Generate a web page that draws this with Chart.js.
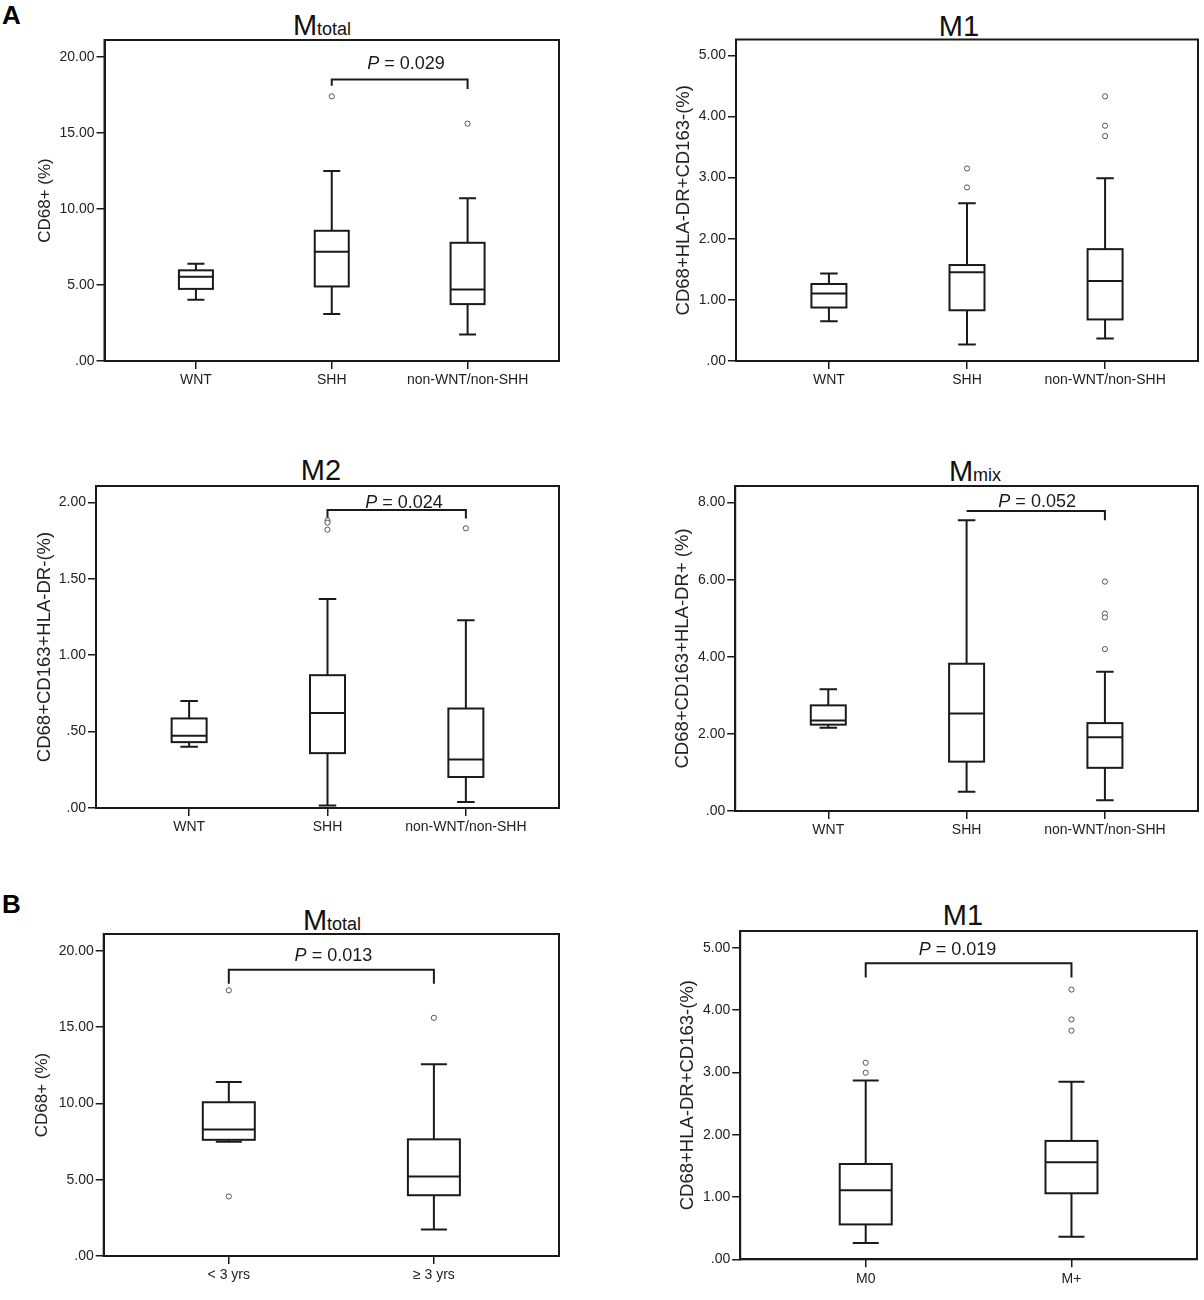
<!DOCTYPE html>
<html>
<head>
<meta charset="utf-8">
<script src="https://cdn.jsdelivr.net/npm/chart.js@4.4.1/dist/chart.umd.min.js"></script>
<style>
html,body{margin:0;padding:0;background:#fff;}
body{width:1204px;height:1300px;position:relative;overflow:hidden;font-family:"Liberation Sans",Arial,sans-serif;}
canvas{position:absolute;}
.ttl{position:absolute;font-size:29px;line-height:1;color:#111;white-space:nowrap;transform:translateX(-50%);}
.ttl span{font-size:18px;line-height:1;}
.lt{position:absolute;font-size:26px;font-weight:bold;line-height:1;color:#000;}
</style>
</head>
<body>
<div class="lt" style="left:2px;top:2px;">A</div>
<div class="lt" style="left:2px;top:891px;">B</div>
<div class="ttl" style="left:322px;top:10.5px;">M<span>total</span></div>
<div class="ttl" style="left:959px;top:11.5px;">M1</div>
<div class="ttl" style="left:321px;top:455.5px;">M2</div>
<div class="ttl" style="left:975px;top:456.5px;">M<span>mix</span></div>
<div class="ttl" style="left:332px;top:905.5px;">M<span>total</span></div>
<div class="ttl" style="left:963px;top:900.5px;">M1</div>
<script>
// ---------- categories ----------
const groupsMol = ['WNT', 'SHH', 'non-WNT/non-SHH'];
const groupsAge = ['< 3 yrs', '\u2265 3 yrs'];
const groupsMeta = ['M0', 'M+'];

// ---------- five-number summaries: [lower whisker, Q1, median, Q3, upper whisker] ----------
const aTotalStats = [[4.02, 4.74, 5.53, 5.96, 6.40], [3.09, 4.90, 7.18, 8.56, 12.49], [1.75, 3.74, 4.70, 7.77, 10.70]];
const aTotalOutliers = [[], [17.4], [15.6]];

const aM1Stats = [[0.65, 0.875, 1.105, 1.26, 1.43], [0.27, 0.83, 1.45, 1.57, 2.58], [0.37, 0.68, 1.31, 1.83, 2.99]];
const aM1Outliers = [[], [3.15, 2.84], [4.33, 3.85, 3.68]];

const aM2Stats = [[0.40, 0.431, 0.473, 0.586, 0.70], [0.017, 0.359, 0.621, 0.869, 1.368], [0.039, 0.203, 0.318, 0.651, 1.229]];
const aM2Outliers = [[], [1.882, 1.867, 1.821], [1.83]];

const aMixStats = [[2.16, 2.24, 2.35, 2.74, 3.16], [0.50, 1.28, 2.53, 3.82, 7.54], [0.28, 1.12, 1.91, 2.28, 3.61]];
const aMixOutliers = [[], [], [5.95, 5.12, 5.02, 4.20]];

const bTotalStats = [[7.48, 7.61, 8.29, 10.07, 11.40], [1.73, 3.98, 5.21, 7.64, 12.56]];
const bTotalOutliers = [[17.4, 3.9], [15.6]];

const bM1Stats = [[0.26, 0.56, 1.11, 1.53, 2.87], [0.36, 1.06, 1.556, 1.90, 2.85]];
const bM1Outliers = [[3.155, 2.995], [4.33, 3.85, 3.67]];

// ---------- p values ----------
const pValues = ['0.029', '0.024', '0.052', '0.013', '0.019'];

// ---------- tick values / labels ----------
const ticksTotal = [0, 5, 10, 15, 20];
const tickLabelsTotal = ['.00', '5.00', '10.00', '15.00', '20.00'];
const ticksM1 = [0, 1, 2, 3, 4, 5];
const tickLabelsM1 = ['.00', '1.00', '2.00', '3.00', '4.00', '5.00'];
const ticksM2 = [0, 0.5, 1, 1.5, 2];
const tickLabelsM2 = ['.00', '.50', '1.00', '1.50', '2.00'];
const ticksMix = [0, 2, 4, 6, 8];
const tickLabelsMix = ['.00', '2.00', '4.00', '6.00', '8.00'];

// ---------- panel layout (pixels / styles) ----------
const panels = [
  {plot:[104.5, 40, 560, 361], yTitleX:44.8, yTitle:'CD68+ (%)', yTitleSize:17, yMax:21.1, pad:0.673,
   cats:groupsMol, stats:aTotalStats, outliers:aTotalOutliers, ticks:ticksTotal, tickLabels:tickLabelsTotal, boxW:34,
   bracket:{from:1, to:2, y:18.5, yl:18.1, yr:17.88, p:pValues[0], px:1.547, py:19.2}},
  {plot:[736, 39.5, 1198.5, 361], yTitleX:683.6, yTitle:'CD68+HLA-DR+CD163-(%)', yTitleSize:18.5, yMax:5.26, pad:0.673,
   cats:groupsMol, stats:aM1Stats, outliers:aM1Outliers, ticks:ticksM1, tickLabels:tickLabelsM1, boxW:35, bracket:null},
  {plot:[96, 486, 560, 808], yTitleX:44.8, yTitle:'CD68+CD163+HLA-DR-(%)', yTitleSize:18.5, yMax:2.107, pad:0.673,
   cats:groupsMol, stats:aM2Stats, outliers:aM2Outliers, ticks:ticksM2, tickLabels:tickLabelsM2, boxW:35,
   bracket:{from:1, to:2, y:1.95, yl:1.895, yr:1.895, p:pValues[1], px:1.553, py:1.963}},
  {plot:[735.2, 486, 1199, 811], yTitleX:682.8, yTitle:'CD68+CD163+HLA-DR+ (%)', yTitleSize:18.5, yMax:8.43, pad:0.673,
   cats:groupsMol, stats:aMixStats, outliers:aMixOutliers, ticks:ticksMix, tickLabels:tickLabelsMix, boxW:35,
   bracket:{from:1, to:2, y:7.78, yl:7.78, yr:7.54, p:pValues[2], px:1.51, py:7.88}},
  {plot:[103.7, 934, 560, 1256], yTitleX:42.1, yTitle:'CD68+ (%)', yTitleSize:17, yMax:21.09, pad:0.61,
   cats:groupsAge, stats:bTotalStats, outliers:bTotalOutliers, ticks:ticksTotal, tickLabels:tickLabelsTotal, boxW:52,
   bracket:{from:0, to:1, y:18.75, yl:17.83, yr:17.83, p:pValues[3], px:0.51, py:19.3}},
  {plot:[740.2, 931, 1198, 1259.3], yTitleX:687.8, yTitle:'CD68+HLA-DR+CD163-(%)', yTitleSize:18.5, yMax:5.27, pad:0.61,
   cats:groupsMeta, stats:bM1Stats, outliers:bM1Outliers, ticks:ticksM1, tickLabels:tickLabelsM1, boxW:52,
   bracket:{from:0, to:1, y:4.754, yl:4.524, yr:4.524, p:pValues[4], px:0.446, py:4.89}}
];

const LINE = '#1a1a1a';
const FONT = '"Liberation Sans", Arial, sans-serif';

const boxPlugin = {
  id: 'boxplot',
  beforeDatasetsDraw(chart) {
    const p = chart.options.plugins.boxplot;
    const xs = chart.scales.x, ys = chart.scales.y;
    const ctx = chart.ctx;
    ctx.save();
    ctx.strokeStyle = LINE;
    ctx.lineWidth = 2;
    p.stats.forEach((s, i) => {
      const cx = xs.getPixelForValue(i);
      const w = p.boxW, cw = w / 2;
      const [lo, q1, med, q3, hi] = s.map(v => ys.getPixelForValue(v));
      // whiskers
      ctx.beginPath();
      ctx.moveTo(cx, q3); ctx.lineTo(cx, hi);
      ctx.moveTo(cx - cw / 2, hi); ctx.lineTo(cx + cw / 2, hi);
      ctx.moveTo(cx, q1); ctx.lineTo(cx, lo);
      ctx.moveTo(cx - cw / 2, lo); ctx.lineTo(cx + cw / 2, lo);
      ctx.stroke();
      // box
      ctx.fillStyle = '#fff';
      ctx.fillRect(cx - w / 2, q3, w, q1 - q3);
      ctx.strokeRect(cx - w / 2, q3, w, q1 - q3);
      ctx.beginPath();
      ctx.moveTo(cx - w / 2, med); ctx.lineTo(cx + w / 2, med);
      ctx.stroke();
    });
    const b = p.bracket;
    if (b) {
      const x1 = xs.getPixelForValue(b.from), x2 = xs.getPixelForValue(b.to);
      ctx.beginPath();
      ctx.moveTo(x1, ys.getPixelForValue(b.yl));
      ctx.lineTo(x1, ys.getPixelForValue(b.y));
      ctx.lineTo(x2, ys.getPixelForValue(b.y));
      ctx.lineTo(x2, ys.getPixelForValue(b.yr));
      ctx.stroke();
      const fI = 'italic 18px ' + FONT, fR = '18px ' + FONT;
      const rest = ' = ' + b.p;
      ctx.font = fI; const wP = ctx.measureText('P').width;
      ctx.font = fR; const wR = ctx.measureText(rest).width;
      const tx = xs.getPixelForValue(b.px) - (wP + wR) / 2;
      const ty = ys.getPixelForValue(b.py);
      ctx.fillStyle = '#1a1a1a';
      ctx.textBaseline = 'alphabetic';
      ctx.textAlign = 'left';
      ctx.font = fI; ctx.fillText('P', tx, ty);
      ctx.font = fR; ctx.fillText(rest, tx + wP, ty);
    }
    ctx.restore();
  },
  afterDraw(chart) {
    const a = chart.chartArea, ctx = chart.ctx;
    ctx.save();
    ctx.strokeStyle = LINE;
    ctx.lineWidth = 2;
    ctx.strokeRect(a.left, a.top, a.right - a.left, a.bottom - a.top);
    ctx.restore();
  }
};

panels.forEach(p => {
  const [l, t, r, b] = p.plot;
  const cvLeft = Math.round(p.yTitleX - (p.yTitleSize * 1.2 / 2 + 4));
  const cvTop = Math.round(t - 12);
  const cvRight = Math.min(1204, Math.round(r + 4));
  const cvBottom = Math.round(b + 38);
  const canvas = document.createElement('canvas');
  canvas.width = cvRight - cvLeft;
  canvas.height = cvBottom - cvTop;
  canvas.style.left = cvLeft + 'px';
  canvas.style.top = cvTop + 'px';
  canvas.style.width = (cvRight - cvLeft) + 'px';
  canvas.style.height = (cvBottom - cvTop) + 'px';
  document.body.appendChild(canvas);
  const yW = l - cvLeft;
  const xH = cvBottom - b;
  const n = p.cats.length;
  const points = [];
  p.outliers.forEach((vals, i) => vals.forEach(v => points.push({x: i, y: v})));
  new Chart(canvas, {
    type: 'scatter',
    data: {datasets: [{
      data: points,
      pointStyle: 'circle',
      pointRadius: 2.6,
      pointBorderWidth: 1,
      pointBorderColor: '#555',
      pointBackgroundColor: '#fff',
      showLine: false
    }]},
    options: {
      responsive: false,
      animation: false,
      layout: {padding: {top: t - cvTop, right: cvRight - r, left: 0, bottom: 0}},
      plugins: {
        legend: {display: false},
        tooltip: {enabled: false},
        boxplot: {stats: p.stats, boxW: p.boxW, bracket: p.bracket}
      },
      scales: {
        x: {
          type: 'linear',
          min: -p.pad,
          max: n - 1 + p.pad,
          afterBuildTicks: s => { s.ticks = p.cats.map((c, i) => ({value: i})); },
          afterFit: s => { s.height = xH; },
          ticks: {
            callback: v => p.cats[v],
            font: {family: FONT, size: 14},
            color: '#222',
            padding: 3,
            autoSkip: false,
            maxRotation: 0
          },
          grid: {drawOnChartArea: false, drawTicks: true, tickLength: 8, color: LINE, lineWidth: 1.5},
          border: {display: true, color: LINE, width: 2}
        },
        y: {
          type: 'linear',
          min: 0,
          max: p.yMax,
          afterBuildTicks: s => { s.ticks = p.ticks.map(v => ({value: v})); },
          afterFit: s => { s.width = yW; },
          ticks: {
            callback: v => p.tickLabels[p.ticks.indexOf(v)],
            font: {family: FONT, size: 14},
            color: '#222',
            padding: 2
          },
          grid: {drawOnChartArea: false, drawTicks: true, tickLength: 8, color: LINE, lineWidth: 1.5},
          border: {display: true, color: LINE, width: 2},
          title: {
            display: true,
            text: p.yTitle,
            font: {family: FONT, size: p.yTitleSize},
            color: '#222',
            padding: {top: 4, bottom: 0}
          }
        }
      }
    },
    plugins: [boxPlugin]
  });
});
</script>
</body>
</html>
